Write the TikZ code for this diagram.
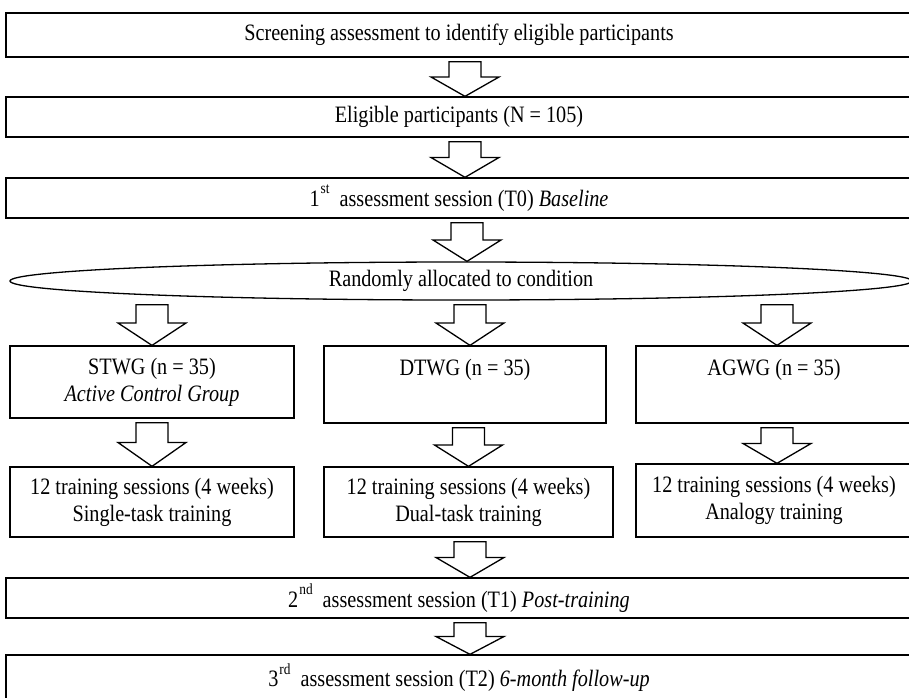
\documentclass[tikz,border=0pt]{standalone}
\usepackage{fontspec}
\setmainfont[FakeStretch=0.86]{Liberation Serif}
\usepackage{tikz}
\usetikzlibrary{shapes.geometric,calc}
\tikzset{
  stage/.style={draw,line width=1.3pt,minimum width=906pt,minimum height=40pt,
    inner sep=2pt,align=center,font=\fontsize{23.5}{27}\selectfont},
  group/.style={stage,minimum width=284pt,minimum height=72pt},
  training/.style={stage,minimum width=284pt,minimum height=70pt},
  blockarrow/.style={draw,line width=1.3pt,fill=white,line join=miter}
}
% hollow block arrow from the bottom of #2 to the top of #3, shifted by #1
\newcommand{\flowarrow}[3][0]{%
  \draw[blockarrow] let \p1=(#2.south), \p2=($(#3.north)+(#1,0)$),
      \p3=($(#2.south)!0.5!(#3.north)$) in
    (\x2-16pt,\y1-4pt) -- (\x2+16pt,\y1-4pt) -- (\x2+16pt,\y3) -- (\x2+34pt,\y3)
    -- (\x2,\y2) -- (\x2-34pt,\y3) -- (\x2-16pt,\y3) -- cycle;}
\newcommand{\ordsup}[1]{\kern1pt\raisebox{1.15ex}{\fontsize{15.5}{15.5}\selectfont #1}\hspace{5pt}}

\begin{document}
\begin{tikzpicture}[x=1pt,y=-1pt]
  \useasboundingbox (0,0) rectangle (909,697);
  \node[stage,minimum height=44pt] (screening) at (459,35)
    {Screening assessment to identify eligible participants};
  \node[stage] (eligible) at (459,117) {Eligible participants (N = 105)};
  \node[stage] (baseline) at (459,198)
    {1\ordsup{st} assessment session (T0) \textit{Baseline}};
  \node[stage,ellipse,minimum width=902pt,minimum height=38pt,inner sep=0pt]
    (random) at (461,281) {Randomly allocated to condition};
  \node[group] (stwg) at (152,382) {STWG (n = 35)\\\textit{Active Control Group}};
  \node[group,minimum width=282pt,minimum height=77pt] (dtwg) at (465,384.5)
    {DTWG (n = 35)\\\strut};
  \node[group,minimum width=276pt,minimum height=77pt] (agwg) at (774,384.5)
    {AGWG (n = 35)\\\strut};
  \node[training] (single) at (152,502)
    {12 training sessions (4 weeks)\\Single-task training};
  \node[training,minimum width=289pt] (dual) at (468.5,502)
    {12 training sessions (4 weeks)\\Dual-task training};
  \node[training,minimum width=276pt,minimum height=73pt] (analogy) at (774,500.5)
    {12 training sessions (4 weeks)\\Analogy training};
  \node[stage] (post) at (459,598)
    {2\ordsup{nd} assessment session (T1) \textit{Post-training}};
  \node[stage,minimum height=45pt] (followup) at (459,677.5)
    {3\ordsup{rd} assessment session (T2) \textit{6-month follow-up}};
  \flowarrow[6]{screening}{eligible}
  \flowarrow[6]{eligible}{baseline}
  \flowarrow[6]{baseline}{random}
  \flowarrow{random}{stwg}
  \flowarrow[5]{random}{dtwg}
  \flowarrow[3]{random}{agwg}
  \flowarrow{stwg}{single}
  \flowarrow{dtwg}{dual}
  \flowarrow[3]{agwg}{analogy}
  \flowarrow[11]{dual}{post}
  \flowarrow[11]{post}{followup}
\end{tikzpicture}
\end{document}
